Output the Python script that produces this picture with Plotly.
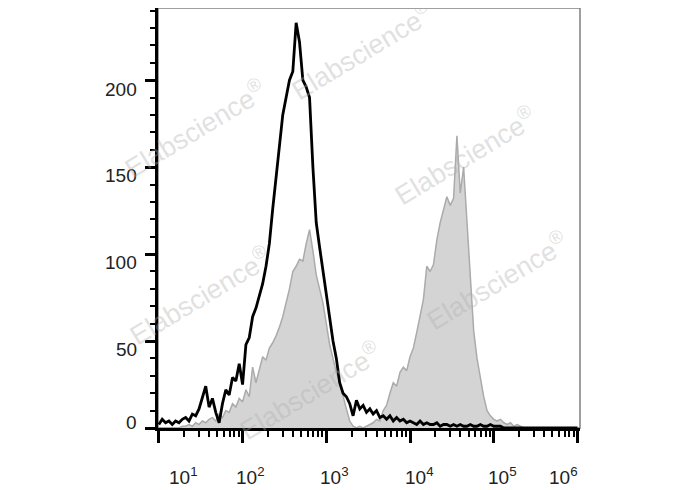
import numpy as np
import plotly.graph_objects as go

# log10 fluorescence bin centres (10^1 .. 10^6, step 0.04 decade)
log_bins = np.round(np.arange(1.0, 6.0001, 0.04), 2)

# black open histogram (control)
black_counts = [
    2, 5, 3, 4, 2, 4, 3, 5, 6, 4,
    8, 7, 11, 18, 24, 12, 17, 9, 3, 14,
    22, 19, 29, 27, 37, 25, 48, 52, 64, 69,
    76, 83, 93, 106, 126, 143, 160, 180, 190, 200,
    205, 233, 222, 200, 196, 190, 150, 118, 104, 90,
    78, 62, 50, 40, 26, 20, 18, 14, 7, 16,
    11, 13, 9, 11, 8, 10, 6, 7, 5, 7,
    4, 6, 4, 5, 3, 4, 3, 2, 4, 2,
    3, 2, 2, 3, 1, 2, 2, 1, 2, 1,
    2, 1, 1, 2, 1, 1, 2, 1, 1, 2,
    1, 1, 1, 0, 0, 0, 0, 0, 0, 0,
    0, 0, 0, 0, 0, 0, 0, 0, 0, 0,
    0, 0, 0, 0, 0, 0,
]

# grey filled histogram (stained sample)
grey_counts = [
    0, 0, 0, 0, 0, 0, 0, 1, 1, 2,
    1, 3, 2, 4, 3, 5, 6, 4, 8, 6,
    10, 9, 14, 12, 17, 15, 22, 18, 35, 26,
    33, 41, 39, 46, 49, 53, 58, 64, 72, 80,
    90, 93, 97, 96, 106, 114, 102, 88, 80, 72,
    60, 48, 40, 32, 26, 18, 11, 4, 1, 0,
    1, 0, 1, 2, 3, 5, 4, 10, 13, 20,
    26, 24, 32, 35, 33, 41, 46, 55, 64, 74,
    93, 90, 94, 108, 118, 126, 133, 128, 132, 168,
    135, 150, 118, 85, 56, 40, 28, 18, 10, 7,
    5, 4, 5, 3, 2, 3, 1, 2, 1, 0,
    0, 0, 0, 0, 0, 0, 0, 0, 0, 0,
    0, 0, 0, 0, 0, 0,
]

x_tick_vals = [10, 100, 1000, 10000, 100000, 1000000]
x_tick_text = ["10<sup>1</sup>", "10<sup>2</sup>", "10<sup>3</sup>",
               "10<sup>4</sup>", "10<sup>5</sup>", "10<sup>6</sup>"]
y_tick_vals = [0, 50, 100, 150, 200]
y_tick_text = ["0", "50", "100", "150", "200"]

watermark_text = "Elabscience<sup>®</sup>"
# approximate centres (page pixels) of the faint watermarks
watermark_pos = [(195, 128), (362, 50), (465, 155), (200, 295), (497, 280), (310, 390)]

# label nudges seen in the original (pixels)
x_label_nudge = [25, 8, 8, 9, 9, -14]
y_label_nudge = [-6, 8, 8, 8, 9]

xs = 10 ** log_bins
label_font = dict(family="Liberation Sans, Arial", size=19, color="#222")

fig = go.Figure()
fig.add_trace(go.Scatter(
    x=xs, y=grey_counts, mode="lines", fill="tozeroy",
    line=dict(color="#ababab", width=1.5), fillcolor="#d4d4d4",
    showlegend=False, hoverinfo="skip"))
fig.add_trace(go.Scatter(
    x=xs, y=black_counts, mode="lines",
    line=dict(color="#000000", width=2.8),
    showlegend=False, hoverinfo="skip"))

minor_x = [m * 10 ** d for d in range(1, 6) for m in range(2, 10)]

fig.update_xaxes(
    type="log", range=[0.99, 6.03],
    showgrid=False, zeroline=False,
    showline=True, linecolor="#000", linewidth=2.5,
    ticks="outside", ticklen=12, tickwidth=2.5, tickcolor="#000",
    tickvals=x_tick_vals, showticklabels=False,
    minor=dict(tickvals=minor_x, ticks="outside", ticklen=6, tickwidth=2, tickcolor="#000"),
)
fig.update_yaxes(
    range=[0, 241.5],
    showgrid=False, zeroline=False,
    showline=True, linecolor="#000", linewidth=2.5,
    ticks="outside", ticklen=10, tickwidth=2.5, tickcolor="#000",
    tickvals=y_tick_vals, showticklabels=False,
    minor=dict(dtick=10, ticks="outside", ticklen=5, tickwidth=2, tickcolor="#000"),
)

# tick labels (placed like the original's, which are nudged off their ticks)
for v, t, dx in zip(x_tick_vals, x_tick_text, x_label_nudge):
    fig.add_annotation(x=np.log10(v), xref="x", y=0, yref="paper",
                       xanchor="center", yanchor="top", xshift=dx, yshift=-34,
                       text=t, showarrow=False, font=label_font)
for v, t, dy in zip(y_tick_vals, y_tick_text, y_label_nudge):
    fig.add_annotation(x=0, xref="paper", y=v, yref="y",
                       xanchor="right", yanchor="middle", xshift=-19, yshift=-dy,
                       text=t, showarrow=False, font=label_font)

fig.add_shape(type="rect", xref="paper", yref="paper", x0=0, x1=1, y0=0, y1=1,
              line=dict(color="#808080", width=1.5), layer="below")

for (px, py) in watermark_pos:
    fig.add_annotation(
        x=(px - 158) / (580 - 158), y=(428 - py) / (428 - 8),
        xref="paper", yref="paper", xanchor="center", yanchor="middle",
        text=watermark_text, showarrow=False,
        textangle=-31,
        font=dict(family="Liberation Sans, Arial", size=27, color="rgba(175,175,175,0.4)"))

# the page body adds an 8px offset at top/left, so the figure is 8px smaller
fig.update_layout(
    width=680, height=482,
    margin=dict(l=150, r=108, t=0, b=62),
    paper_bgcolor="white", plot_bgcolor="white",
)

fig.write_html("out.html")
